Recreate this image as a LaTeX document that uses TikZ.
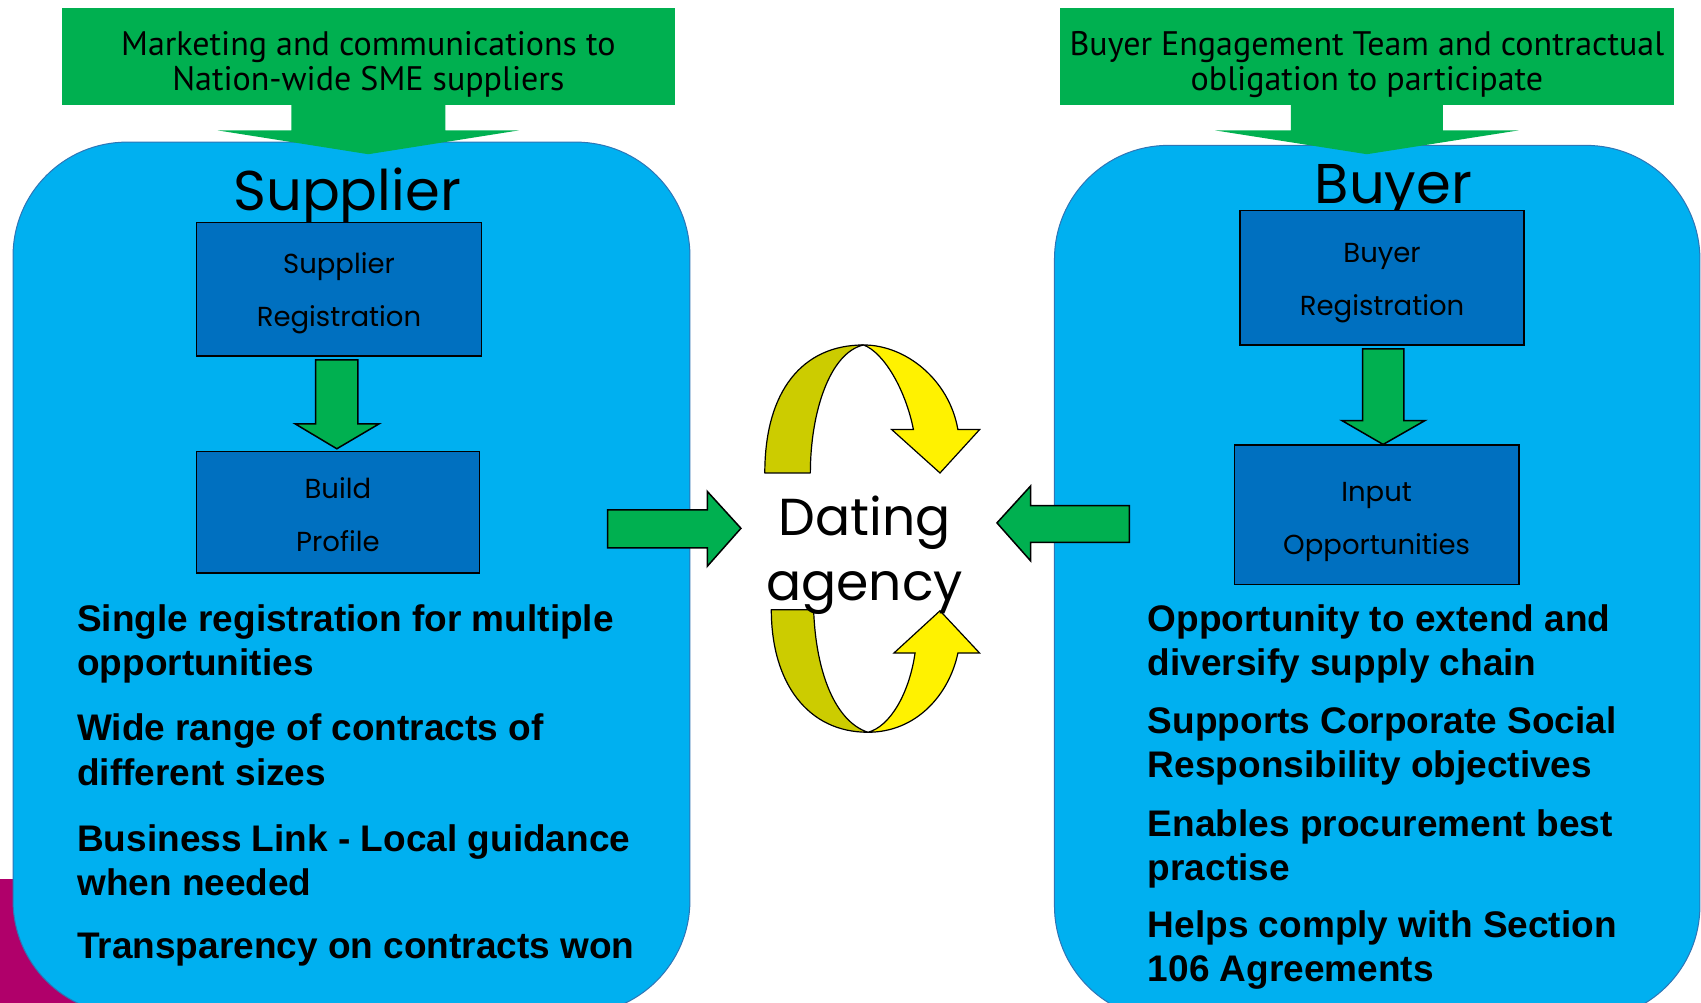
\documentclass[tikz,border=0pt]{standalone}
\usepackage{fontspec}
\setmainfont{Liberation Sans}
\newfontfamily\gothic{Poppins}
\newfontfamily\narrowsf{PT Sans}
\usetikzlibrary{calc}
\definecolor{skyblue}{HTML}{00B0F0}
\definecolor{boxblue}{HTML}{0070C0}
\definecolor{edgeblue}{HTML}{2E75B6}
\definecolor{arrgreen}{HTML}{00B050}
\definecolor{darkyellow}{HTML}{CCCC00}
\definecolor{plum}{HTML}{B0006A}
\begin{document}
\begin{tikzpicture}[x=1.0848pt, y=-1.0848pt,
  banner/.style={fill=arrgreen, minimum height=97.6pt, inner sep=0pt, align=center, font=\narrowsf\fontsize{34}{35}\selectfont},
  panel/.style={fill=skyblue, draw=edgeblue, line width=1pt, rounded corners=114pt},
  stepbox/.style={draw=black, line width=1.5pt, fill=boxblue, align=center, inner sep=0pt, font=\gothic\fontsize{27.5}{53}\selectfont},
  blockarrow/.style={fill=arrgreen, draw=black, line width=1.5pt, line join=miter},
  title/.style={font=\gothic\fontsize{56}{60}\selectfont, anchor=base, inner sep=0pt},
  point/.style={font=\bfseries\fontsize{37}{44.5}\selectfont, align=left, anchor=north west, inner sep=0pt},
  loopback/.style={fill=darkyellow, draw=black, line width=1.2pt, line join=round},
  loopfront/.style={fill=yellow, draw=black, line width=1.2pt, line join=miter}]
\useasboundingbox (0,0) rectangle (1568,924);
\clip (0,0) rectangle (1568,924);
% background panels
\fill[plum] (0,810) rectangle (120,935);
\draw[panel] (12,131) rectangle (636,935);
\draw[panel] (972,134) rectangle (1567,940);
% banners on top
\node[banner, minimum width=612.9pt] (mkt) at (339.5,52) {\rule{0pt}{40pt}Marketing and communications to\\Nation-wide SME suppliers};
\fill[arrgreen] ($(mkt.south)+(-71,-1)$) -- ++(0,24) -- ++(-68,0) -- ($(mkt.south)+(0,45)$) -- ++(139,-22) -- ++(-68,0) -- ++(0,-24) -- cycle;
\node[banner, minimum width=614pt] (bet) at (1260,52) {\rule{0pt}{40pt}Buyer Engagement Team and contractual\\obligation to participate};
\fill[arrgreen] ($(bet.south)+(-70,-1)$) -- ++(0,24) -- ++(-70,0) -- ($(bet.south)+(0,45)$) -- ++(140,-22) -- ++(-70,0) -- ++(0,-24) -- cycle;
% titles
\node[title] (suptitle) at (320,194) {Supplier};
\node[title] (buytitle) at (1284.5,188) {Buyer};
% steps
\node[stepbox, minimum width=285.3pt, minimum height=133.4pt] (supreg) at (312.5,266.5) {\rule{0pt}{29.5pt}Supplier\\Registration};
\node[stepbox, minimum width=283.1pt, minimum height=121.5pt] (supprof) at (311.5,472) {\rule{0pt}{27pt}Build\\Profile};
\draw[blockarrow] ($(supreg.south)+(-21.5,3)$) -- ++(39,0) -- ++(0,59) -- ++(19.5,0) -- ++(-39,23) -- ++(-38.5,-23) -- ++(19,0) -- cycle;
\node[stepbox, minimum width=284.2pt, minimum height=134.5pt] (buyreg) at (1274,256) {\rule{0pt}{29.5pt}Buyer\\Registration};
\node[stepbox, minimum width=284.2pt, minimum height=139.9pt] (buyopp) at (1269,474.5) {\rule{0pt}{33pt}Input\\Opportunities};
\draw[blockarrow] ($(buyreg.south)+(-18,3)$) -- ++(38,0) -- ++(0,66) -- ++(19.5,0) -- ++(-38.5,22) -- ++(-38,-22) -- ++(19,0) -- cycle;
% arrows into the middle
\draw[blockarrow] (560,470) -- (652,470) -- (652,453) -- (683,487) -- (652,522) -- (652,505) -- (560,505) -- cycle;
\draw[blockarrow] (1041,466) -- (950,466) -- (950,448) -- (919,482) -- (950,517) -- (950,500) -- (1041,500) -- cycle;
% turning arrows
\draw[loopback] (705,436) .. controls (705,360) and (740,318) .. (796,318) .. controls (765,325) and (747,380) .. (747,436) -- cycle;
\draw[loopfront] (796,318) .. controls (835,318) and (875,350) .. (883,396) -- (903,396) -- (866.5,436) -- (822,396) -- (842,396) .. controls (835,360) and (815,325) .. (796,318) -- cycle;
\draw[loopback] (711,562) -- (750,562) .. controls (752,620) and (770,665) .. (800,675) .. controls (745,675) and (711,630) .. (711,562) -- cycle;
\draw[loopfront] (800,675) .. controls (845,675) and (875,640) .. (883,602) -- (903,602) -- (866.5,563) -- (824,602) -- (843.5,602) .. controls (838,640) and (820,670) .. (800,675) -- cycle;
\node[font=\gothic\fontsize{52}{64.5}\selectfont, align=center, inner sep=0pt] (dating) at (797,512) {Dating\\agency};
% benefits
\node[point] (sup1) at (71,557) {Single registration for multiple\\opportunities};
\node[point] (sup2) at (71,658) {Wide range of contracts of\\different sizes};
\node[point] (sup3) at (71,760) {Business Link - Local guidance\\when needed};
\node[point] (sup4) at (71,860) {Transparency on contracts won};
\node[point] (buy1) at (1058,557) {Opportunity to extend and\\diversify supply chain};
\node[point] (buy2) at (1058,651) {Supports Corporate Social\\Responsibility objectives};
\node[point] (buy3) at (1058,746) {Enables procurement best\\practise};
\node[point] (buy4) at (1058,839) {Helps comply with Section\\106 Agreements};
\end{tikzpicture}
\end{document}
